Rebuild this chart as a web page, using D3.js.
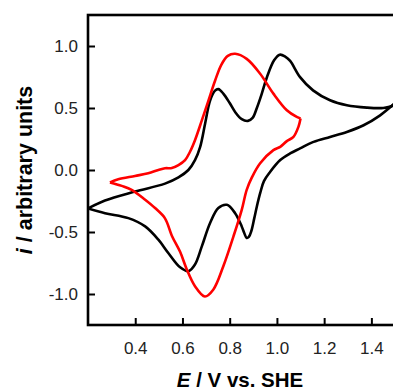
<!DOCTYPE html>
<html>
<head>
<meta charset="utf-8">
<script src="https://cdn.jsdelivr.net/npm/d3@7"></script>
<style>
  body { margin: 0; background: #fff; }
  svg { display: block; }
  .tick text { font-family: Arial, "Liberation Sans", sans-serif; fill: #222; }
</style>
</head>
<body>
<svg id="chart" width="393" height="392"></svg>
<script>

// black trace, forward sweep (E / V, i)
var blackForward = [
  [0.20, -0.31], [0.272, -0.246], [0.399, -0.174], [0.526, -0.11], [0.583, -0.06],
  [0.625, 0.0], [0.653, 0.08], [0.675, 0.187], [0.696, 0.375], [0.717, 0.56],
  [0.738, 0.64], [0.752, 0.652], [0.773, 0.616], [0.80, 0.54], [0.823, 0.468],
  [0.851, 0.41], [0.877, 0.396], [0.897, 0.42], [0.915, 0.50], [0.935, 0.61],
  [0.958, 0.75], [0.988, 0.885], [1.012, 0.93], [1.035, 0.915], [1.056, 0.88],
  [1.098, 0.749], [1.153, 0.642], [1.225, 0.562], [1.296, 0.522], [1.381, 0.503],
  [1.45, 0.50], [1.487, 0.516], [1.50, 0.54]
];

// black trace, reverse sweep
var blackReverse = [
  [1.50, 0.54], [1.437, 0.441], [1.367, 0.361], [1.296, 0.307], [1.225, 0.267],
  [1.155, 0.227], [1.098, 0.174], [1.056, 0.134], [1.014, 0.08], [0.971, -0.016],
  [0.945, -0.09], [0.929, -0.187], [0.915, -0.294], [0.904, -0.39], [0.892, -0.49],
  [0.881, -0.54], [0.872, -0.548], [0.862, -0.51], [0.851, -0.455], [0.823, -0.348],
  [0.788, -0.281], [0.752, -0.307], [0.717, -0.428], [0.682, -0.616], [0.653, -0.762],
  [0.625, -0.816], [0.59, -0.785], [0.54, -0.669], [0.498, -0.562], [0.442, -0.455],
  [0.371, -0.388], [0.272, -0.348], [0.20, -0.31]
];

// red trace, forward sweep
var redForward = [
  [0.293, -0.10], [0.328, -0.075], [0.399, -0.048], [0.455, -0.026], [0.498, 0.0],
  [0.526, 0.014], [0.555, 0.016], [0.583, 0.04], [0.611, 0.08], [0.632, 0.147],
  [0.653, 0.24], [0.682, 0.40], [0.71, 0.56], [0.738, 0.72], [0.765, 0.85],
  [0.792, 0.92], [0.823, 0.937], [0.872, 0.896], [0.929, 0.776], [0.985, 0.616],
  [1.042, 0.482], [1.084, 0.428], [1.10, 0.415]
];

// red trace, reverse sweep
var redReverse = [
  [1.10, 0.415], [1.091, 0.348], [1.07, 0.267], [1.042, 0.233], [1.014, 0.187],
  [0.985, 0.16], [0.929, 0.054], [0.894, -0.06], [0.872, -0.16], [0.851, -0.321],
  [0.816, -0.535], [0.773, -0.776], [0.731, -0.963], [0.695, -1.02], [0.653, -0.937],
  [0.618, -0.80], [0.59, -0.66], [0.555, -0.53], [0.526, -0.39], [0.484, -0.307],
  [0.442, -0.24], [0.385, -0.16], [0.343, -0.128], [0.293, -0.10]
];

var xTicks = [0.4, 0.6, 0.8, 1.0, 1.2, 1.4];
var yTicks = [-1.0, -0.5, 0.0, 0.5, 1.0];

var plotLeft = 88, plotRight = 395, plotTop = 15, plotBottom = 325;

var x = d3.scaleLinear().domain( [ 0.2, 1.5 ] ).range( [ plotLeft, plotRight ] );
var y = d3.scaleLinear().domain( [ -1.25, 1.25 ] ).range( [ plotBottom, plotTop ] );

var svg = d3.select( "#chart" );

svg.append( "clipPath" )
  .attr( "id", "plotClip" )
  .append( "rect" )
    .attr( "x", plotLeft )
    .attr( "y", plotTop )
    .attr( "width", plotRight - plotLeft )
    .attr( "height", plotBottom - plotTop );

var line = d3.line()
  .x( d => x( d[ 0 ] ) )
  .y( d => y( d[ 1 ] ) )
  .curve( d3.curveCatmullRom.alpha( 0.5 ) );

var traces = [
  { data: blackForward, color: "#000" },
  { data: blackReverse, color: "#000" },
  { data: redForward, color: "#ff0000" },
  { data: redReverse, color: "#ff0000" }
];

svg.append( "g" )
  .attr( "clip-path", "url(#plotClip)" )
  .selectAll( "path.trace" )
  .data( traces )
  .enter().append( "path" )
    .attr( "class", "trace" )
    .attr( "d", d => line( d.data ) )
    .attr( "fill", "none" )
    .attr( "stroke", d => d.color )
    .attr( "stroke-width", 2.6 )
    .attr( "stroke-linejoin", "round" );

// axes, ticks pointing inward
var xAxis = svg.append( "g" )
  .attr( "transform", "translate(0," + plotBottom + ")" )
  .call( d3.axisBottom( x ).tickValues( xTicks ).tickFormat( d3.format( ".1f" ) )
    .tickSizeInner( -7 ).tickSizeOuter( 0 ).tickPadding( 17 ) );

var yAxis = svg.append( "g" )
  .attr( "transform", "translate(" + plotLeft + ",0)" )
  .call( d3.axisLeft( y ).tickValues( yTicks ).tickFormat( d3.format( ".1f" ) )
    .tickSizeInner( -7 ).tickSizeOuter( 0 ).tickPadding( 10 ) );

xAxis.select( ".domain" ).remove();
yAxis.select( ".domain" ).remove();

svg.selectAll( ".tick line" )
  .attr( "stroke", "#000" )
  .attr( "stroke-width", 2 );

svg.selectAll( ".tick text" )
  .style( "font-size", "17px" );

yAxis.selectAll( ".tick text" )
  .text( d => d3.format( ".1f" )( d ).replace( "\u2212", "-" ) );

// frame
svg.append( "rect" )
  .attr( "x", plotLeft )
  .attr( "y", plotTop )
  .attr( "width", plotRight - plotLeft )
  .attr( "height", plotBottom - plotTop )
  .attr( "fill", "none" )
  .attr( "stroke", "#000" )
  .attr( "stroke-width", 2.6 );

// axis titles
var xTitle = svg.append( "text" )
  .attr( "x", 240 )
  .attr( "y", 387 )
  .attr( "text-anchor", "middle" )
  .style( "font-family", "Arial, 'Liberation Sans', sans-serif" )
  .style( "font-size", "20.5px" )
  .style( "font-weight", "bold" );
xTitle.append( "tspan" ).style( "font-style", "italic" ).text( "E" );
xTitle.append( "tspan" ).text( " / V vs. SHE" );

var yTitle = svg.append( "text" )
  .attr( "transform", "translate(32,170) rotate(-90)" )
  .attr( "text-anchor", "middle" )
  .style( "font-family", "Arial, 'Liberation Sans', sans-serif" )
  .style( "font-size", "21.5px" )
  .style( "font-weight", "bold" );
yTitle.append( "tspan" ).style( "font-style", "italic" ).text( "i" );
yTitle.append( "tspan" ).text( " / arbitrary units" );

</script>
</body>
</html>
